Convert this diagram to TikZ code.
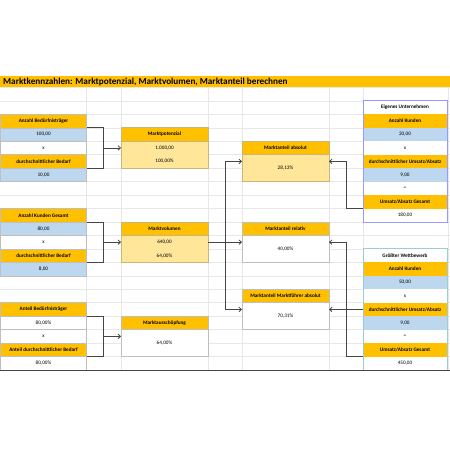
\documentclass[tikz,border=0pt]{standalone}
\usepackage{fontspec}
\setmainfont{Carlito}
\usetikzlibrary{arrows.meta}
\definecolor{orng}{HTML}{FFC000}
\definecolor{lblue}{HTML}{BDD7EE}
\definecolor{lyel}{HTML}{FFE699}
\definecolor{gridc}{HTML}{E8E8E8}
\definecolor{cellb}{HTML}{BFBFBF}
\definecolor{tanb}{HTML}{C9B67F}
\definecolor{lav}{HTML}{9999FF}
\definecolor{tealb}{HTML}{9BCFCF}
\definecolor{conn}{HTML}{454545}
\newcommand\cellnode[7]{%
 \node[#6, minimum width={#3pt-#2pt}, minimum height={(#5-#4)*13.46pt}] (#1) at ({(#2+#3)/2},{(#4+#5)/2}) {#7};}
\tikzset{
 base/.style={inner sep=0pt, outer sep=0pt, font=\fontsize{5.2}{6}\selectfont, text=black},
 hd/.style={base, fill=orng, font=\fontsize{5.2}{6}\selectfont\bfseries},
 ahd/.style={hd, draw=cellb, line width=0.5pt},
 abl/.style={base, fill=lblue, draw=cellb, line width=0.5pt},
 awh/.style={base, fill=white, draw=cellb, line width=0.5pt},
 gh/.style={hd},
 gb/.style={base, fill=lblue},
 gw/.style={base, fill=white},
 gt/.style={base, fill=white, font=\fontsize{5.2}{6}\selectfont\bfseries},
 yhd/.style={hd, draw=tanb, line width=0.6pt},
 ybd/.style={base, fill=lyel},
 whd/.style={hd, draw=cellb, line width=0.6pt},
 wbd/.style={base, fill=white, draw=cellb, line width=0.6pt},
 ln/.style={draw=conn, line width=0.8pt},
 arr/.style={ln, -{Straight Barb[length=2.4pt,width=4.5pt]}},
 gridl/.style={draw=gridc, line width=0.5pt}
}
\begin{document}
\begin{tikzpicture}[x=1pt, y=-13.46pt]
\useasboundingbox[fill=white] (0,-6.4918) rectangle (450,26.940);
% grid
\foreach \r in {0,...,21} \draw[gridl] (0,\r) -- (450,\r);
\foreach \x in {86.5,121,208,242,329,363,448} \draw[gridl] (\x,0) -- (\x,21);
% title
\fill[orng] (0,-0.85) rectangle (450,0);
\node[anchor=west, inner sep=0pt, font=\fontsize{9.2}{11}\selectfont\bfseries] (title) at (3,-0.42) {Marktkennzahlen: Marktpotenzial, Marktvolumen, Marktanteil berechnen};
% left group 1
\cellnode{a1h}{0.5}{86.5}{2}{3}{ahd}{Anzahl Bedürfnisträger}
\cellnode{a1v}{0.5}{86.5}{3}{4}{abl}{100,00}
\cellnode{a1x}{0.5}{86.5}{4}{5}{awh}{x}
\cellnode{a1h2}{0.5}{86.5}{5}{6}{ahd}{durchschnittlicher Bedarf}
\cellnode{a1v2}{0.5}{86.5}{6}{7}{abl}{10,00}
% left group 2
\cellnode{a2h}{0.5}{86.5}{9}{10}{ahd}{Anzahl Kunden Gesamt}
\cellnode{a2v}{0.5}{86.5}{10}{11}{abl}{80,00}
\cellnode{a2x}{0.5}{86.5}{11}{12}{awh}{x}
\cellnode{a2h2}{0.5}{86.5}{12}{13}{ahd}{durchschnittlicher Bedarf}
\cellnode{a2v2}{0.5}{86.5}{13}{14}{abl}{8,00}
% left group 3
\cellnode{a3h}{0.5}{86.5}{16}{17}{ahd}{Anteil Bedürfnisträger}
\cellnode{a3v}{0.5}{86.5}{17}{18}{awh}{80,00\%}
\cellnode{a3x}{0.5}{86.5}{18}{19}{awh}{x}
\cellnode{a3h2}{0.5}{86.5}{19}{20}{ahd}{Anteil durchschnittlicher Bedarf}
\cellnode{a3v2}{0.5}{86.5}{20}{21}{awh}{80,00\%}
% column C
\cellnode{mp1}{121}{208}{4}{5}{ybd}{1.000,00}
\cellnode{mp2}{121}{208}{5}{6}{ybd}{100,00\%}
\draw[draw=tanb, line width=0.6pt] (mp1.north west) rectangle (mp2.south east);
\cellnode{mp}{121}{208}{3}{4}{yhd}{Marktpotenzial}
\cellnode{mv1}{121}{208}{11}{12}{ybd}{640,00}
\cellnode{mv2}{121}{208}{12}{13}{ybd}{64,00\%}
\draw[draw=tanb, line width=0.6pt] (mv1.north west) rectangle (mv2.south east);
\cellnode{mv}{121}{208}{10}{11}{yhd}{Marktvolumen}
\cellnode{maub}{121}{208}{18}{20}{wbd}{64,00\%}
\cellnode{mau}{121}{208}{17}{18}{whd}{Marktausschöpfung}
% column E
\cellnode{maab}{242}{329}{5}{7}{ybd, draw=tanb, line width=0.6pt}{28,13\%}
\cellnode{maa}{242}{329}{4}{5}{yhd}{Marktanteil absolut}
\cellnode{marb}{242}{329}{11}{13}{wbd}{40,00\%}
\cellnode{mar}{242}{329}{10}{11}{whd}{Marktanteil relativ}
\cellnode{mmfb}{242}{329}{16}{18}{wbd}{70,31\%}
\cellnode{mmf}{242}{329}{15}{16}{whd}{Marktanteil Marktführer absolut}
% column G group 1
\cellnode{eu0}{363}{447}{1}{2}{gt}{Eigenes Unternehmen}
\cellnode{eu1}{363}{447}{2}{3}{gh}{Anzahl Kunden}
\cellnode{eu2}{363}{447}{3}{4}{gb}{20,00}
\cellnode{eu3}{363}{447}{4}{5}{gw}{x}
\cellnode{eu4}{363}{447}{5}{6}{gh}{durchschnittlicher Umsatz/Absatz}
\cellnode{eu5}{363}{447}{6}{7}{gb}{9,00}
\cellnode{eu6}{363}{447}{7}{8}{gw}{=}
\cellnode{eu7}{363}{447}{8}{9}{gh}{Umsatz/Absatz Gesamt}
\cellnode{eu8}{363}{447}{9}{10}{gw}{180,00}
\draw[draw=lav, line width=0.8pt] (eu0.north west) rectangle (eu8.south east);
% column G group 2
\cellnode{gw0}{363}{447}{12}{13}{gt}{Größter Wettbewerb}
\cellnode{gw1}{363}{447}{13}{14}{gh}{Anzahl Kunden}
\cellnode{gw2}{363}{447}{14}{15}{gb}{50,00}
\cellnode{gw3}{363}{447}{15}{16}{gw}{x}
\cellnode{gw4}{363}{447}{16}{17}{gh}{durchschnittlicher Umsatz/Absatz}
\cellnode{gw5}{363}{447}{17}{18}{gb}{9,00}
\cellnode{gw6}{363}{447}{18}{19}{gw}{=}
\cellnode{gw7}{363}{447}{19}{20}{gh}{Umsatz/Absatz Gesamt}
\cellnode{gw8}{363}{447}{20}{21}{gw}{450,00}
\draw[draw=tealb, line width=0.8pt] (gw0.north west) rectangle (gw8.south east);
% bottom line
\draw[draw=conn, line width=1pt] (0,21) -- (450,21);
% left brackets
\coordinate (b1) at (103.7,4.5);
\coordinate (b2) at (103.7,11.5);
\coordinate (b3) at (103.7,18.5);
\draw[ln] (a1h.south east) -| (b1) |- (a1h2.south east);
\draw[arr] (b1) -- (mp1.west);
\draw[ln] (a2h.south east) -| (b2) |- (a2h2.south east);
\draw[arr] (b2) -- (mv1.west);
\draw[ln] (a3h.south east) -| (b3) |- (a3h2.south east);
\draw[arr] (b3) -- (b3 -| maub.west);
% middle connectors
\coordinate (m1) at (225,5.5);
\coordinate (m3) at (225,16.5);
\draw[ln] (m1) -- (m3);
\draw[arr] (mv1.east) -- (mv1.east -| marb.west);
\draw[arr] (m1) -- (m1 -| maab.west);
\draw[arr] (m3) -- (m3 -| mmfb.west);
% right connectors
\coordinate (r1) at (346,5.5);
\coordinate (r3) at (346,11.5);
\draw[ln] (eu7.south west) -| (r1);
\draw[arr] (r1) -- (r1 -| maab.east);
\draw[ln] (gw7.south west) -| (r3);
\draw[arr] (r3) -- (r3 -| marb.east);
\draw[arr] (gw4.west) -- (gw4.west -| mmfb.east);
\end{tikzpicture}
\end{document}
